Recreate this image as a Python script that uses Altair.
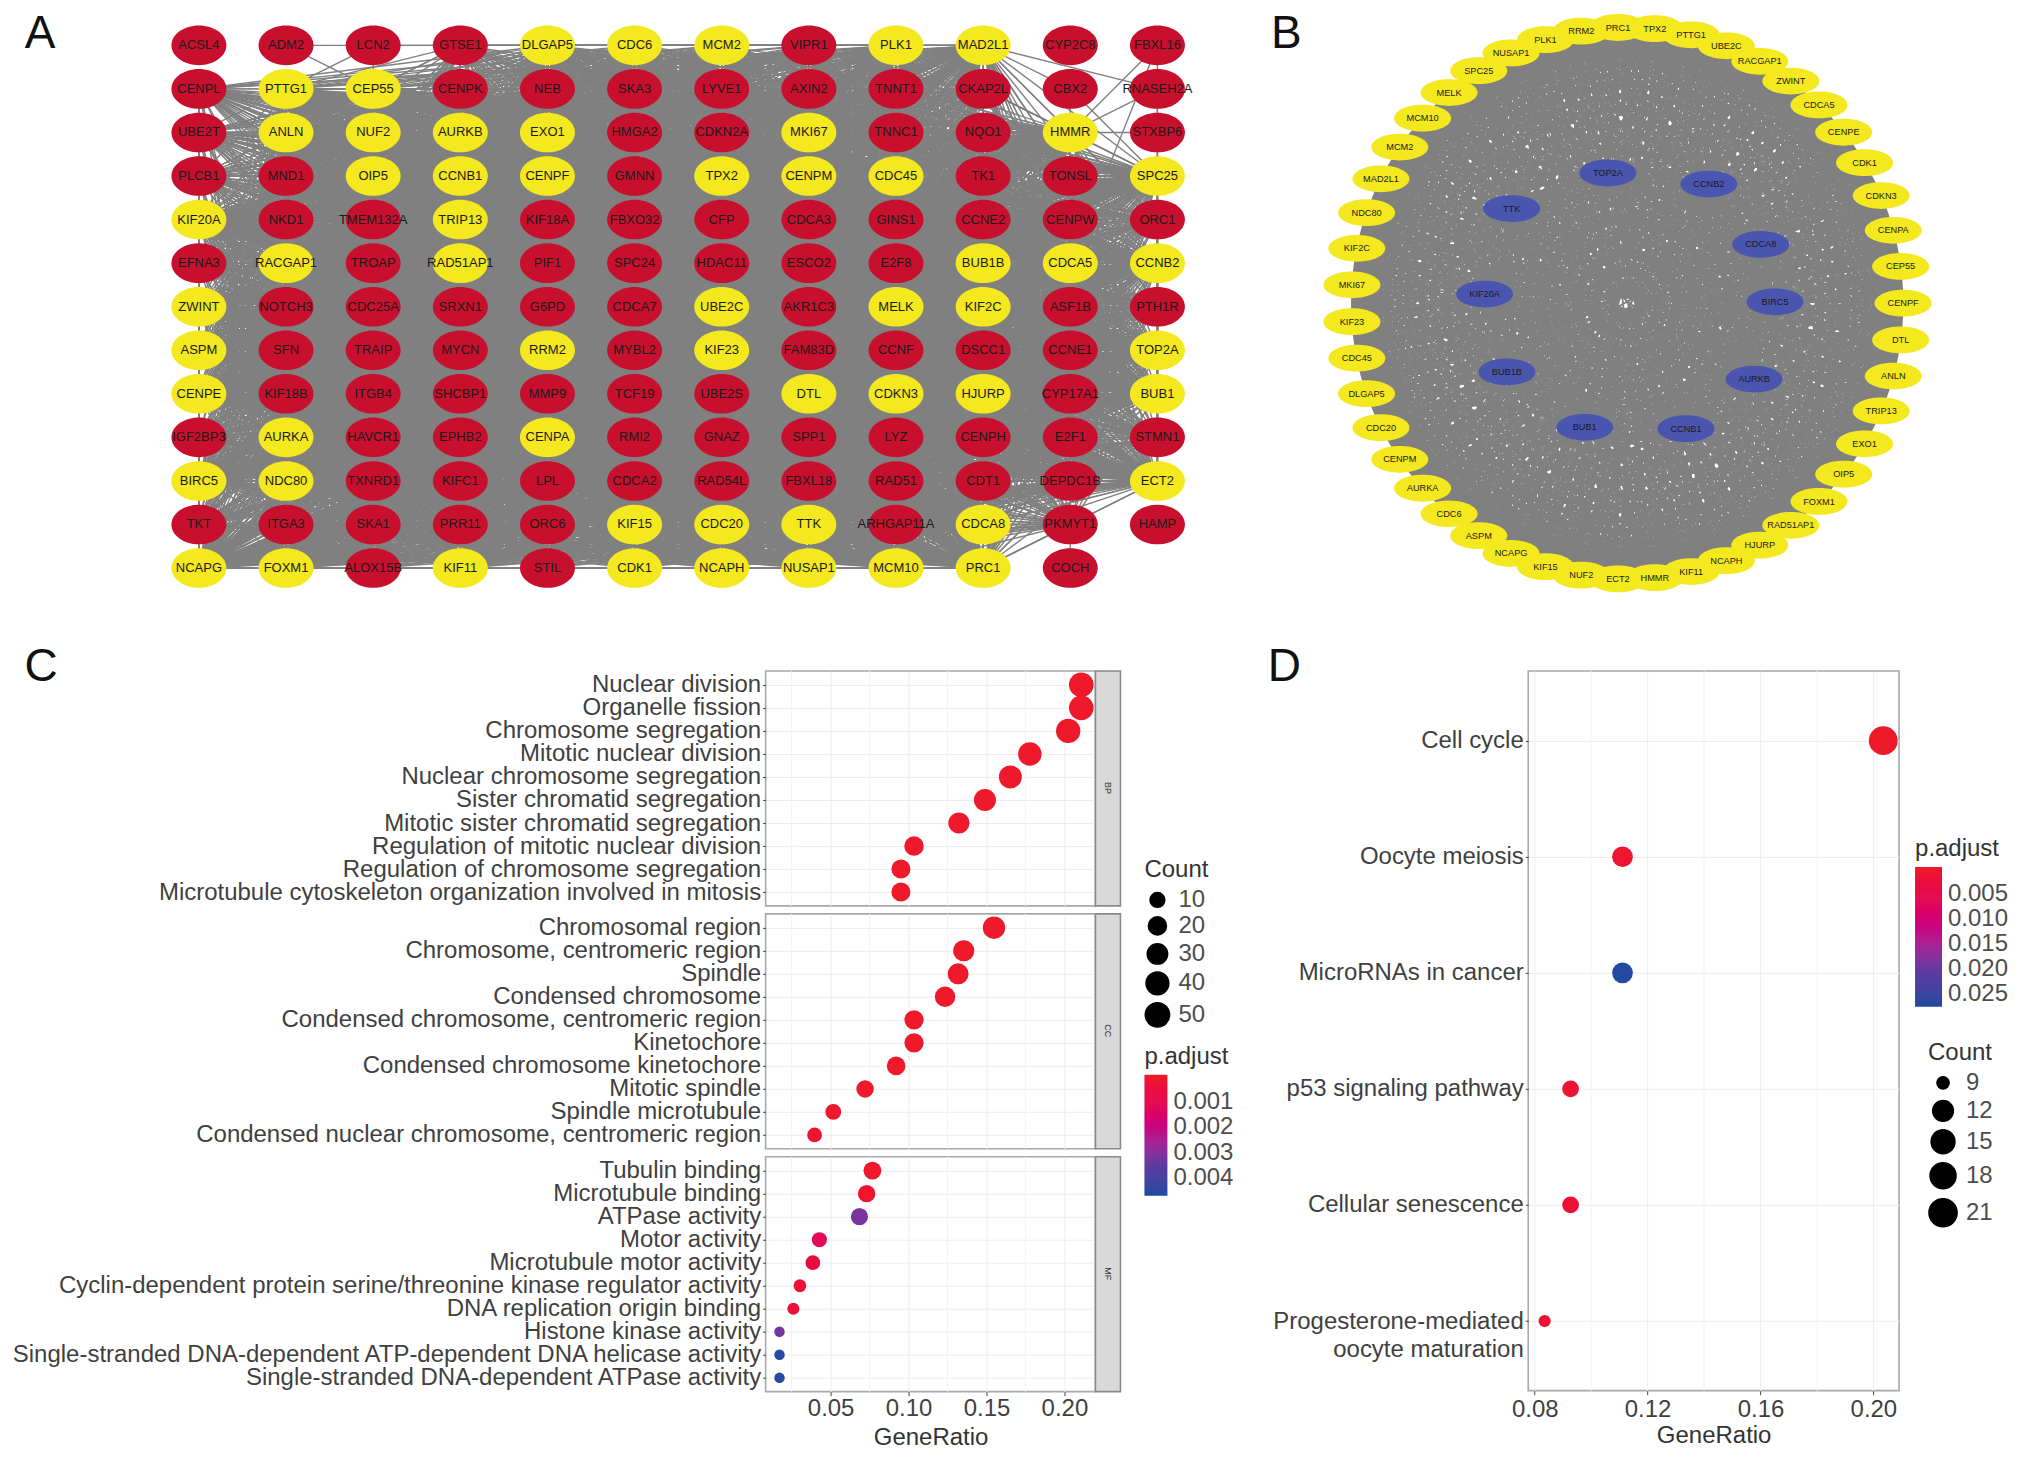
import math
from itertools import combinations
import altair as alt
import pandas as pd

alt.data_transformers.disable_max_rows()

FONT = "Liberation Sans"
GRAY_EDGE = "#808080"
RED_NODE = "#C8102E"
YELLOW_NODE = "#F4E81E"
BLUE_NODE = "#4A55B0"
TXT = "#3f3f3f"
FS = 24


def indep(c):
    return c.resolve_scale(color="independent", size="independent")


# ---------- panel A ----------
grid_rows = [
    "ACSL4 ADM2 LCN2 GTSE1 DLGAP5 CDC6 MCM2 VIPR1 PLK1 MAD2L1 CYP2C8 FBXL16",
    "CENPL PTTG1 CEP55 CENPK NEB SKA3 LYVE1 AXIN2 TNNT1 CKAP2L CBX2 RNASEH2A",
    "UBE2T ANLN NUF2 AURKB EXO1 HMGA2 CDKN2A MKI67 TNNC1 NQO1 HMMR STXBP6",
    "PLCB1 MND1 OIP5 CCNB1 CENPF GMNN TPX2 CENPM CDC45 TK1 TONSL SPC25",
    "KIF20A NKD1 TMEM132A TRIP13 KIF18A FBXO32 CFP CDCA3 GINS1 CCNE2 CENPW ORC1",
    "EFNA3 RACGAP1 TROAP RAD51AP1 PIF1 SPC24 HDAC11 ESCO2 E2F8 BUB1B CDCA5 CCNB2",
    "ZWINT NOTCH3 CDC25A SRXN1 G6PD CDCA7 UBE2C AKR1C3 MELK KIF2C ASF1B PTH1R",
    "ASPM SFN TRAIP MYCN RRM2 MYBL2 KIF23 FAM83D CCNF DSCC1 CCNE1 TOP2A",
    "CENPE KIF18B ITGB4 SHCBP1 MMP9 TCF19 UBE2S DTL CDKN3 HJURP CYP17A1 BUB1",
    "IGF2BP3 AURKA HAVCR1 EPHB2 CENPA RMI2 GNAZ SPP1 LYZ CENPH E2F1 STMN1",
    "BIRC5 NDC80 TXNRD1 KIFC1 LPL CDCA2 RAD54L FBXL18 RAD51 CDT1 DEPDC1B ECT2",
    "TKT ITGA3 SKA1 PRR11 ORC6 KIF15 CDC20 TTK ARHGAP11A CDCA8 PKMYT1 HAMP",
    "NCAPG FOXM1 ALOX15B KIF11 STIL CDK1 NCAPH NUSAP1 MCM10 PRC1 COCH",
]
ring_genes = ("PRC1 TPX2 PTTG1 UBE2C RACGAP1 ZWINT CDCA5 CENPE CDK1 CDKN3 CENPA CEP55 CENPF DTL ANLN "
              "TRIP13 EXO1 OIP5 FOXM1 RAD51AP1 HJURP NCAPH KIF11 HMMR ECT2 NUF2 KIF15 NCAPG ASPM CDC6 "
              "AURKA CENPM CDC20 DLGAP5 CDC45 KIF23 MKI67 KIF2C NDC80 MAD2L1 MCM2 MCM10 MELK SPC25 "
              "NUSAP1 PLK1 RRM2").split()
hub_genes = ["TOP2A", "CCNB2", "TTK", "CDCA8", "KIF20A", "BIRC5", "BUB1B", "AURKB", "BUB1", "CCNB1"]
hub_x = [-0.070, 0.296, -0.419, 0.484, -0.517, 0.536, -0.436, 0.460, -0.154, 0.213]
hub_y = [-0.472, -0.432, -0.343, -0.213, -0.033, -0.005, 0.249, 0.275, 0.450, 0.455]
up_genes = set(ring_genes) | set(hub_genes)
sparse_links = {
    "ACSL4": [], "HAMP": [], "COCH": [], "CYP2C8": [],
    "ADM2": ["DLGAP5", "CEP55"], "LCN2": ["CDC6", "CEP55", "PTTG1"],
    "FBXL16": ["HMMR", "SPC25", "CDCA5"], "CBX2": ["HMMR", "MAD2L1", "SPC25"],
    "RNASEH2A": ["HMMR", "SPC25", "MAD2L1"], "STXBP6": ["SPC25", "HMMR"],
    "TONSL": ["SPC25", "MAD2L1", "CCNB2"],
}
extra_links = [("PKMYT1", "COCH")]

pos = {}
rows_a = []
for r, line in enumerate(grid_rows):
    for c, g in enumerate(line.split()):
        pos[g] = (c, r)
        rows_a.append({"gene": g, "col": c, "row": r, "kind": "up" if g in up_genes else "down"})
nodes_a = pd.DataFrame(rows_a)

up_list = [g for g in pos if g in up_genes]
down_list = [g for g in pos if g not in up_genes]
pairs_a = list(combinations(up_list, 2)) + extra_links
for g in down_list:
    for t in sparse_links.get(g, up_list):
        pairs_a.append((g, t))
edges_a = pd.DataFrame(
    [{"col": pos[a][0], "row": pos[a][1], "col2": pos[b][0], "row2": pos[b][1]} for a, b in pairs_a]
)

ELLIPSE_A = "M-1,0 A1,0.72 0 1 1 1,0 A1,0.72 0 1 1 -1,0 Z"
ELLIPSE_B = "M-1,0 A1,0.47 0 1 1 1,0 A1,0.47 0 1 1 -1,0 Z"

TOP_H = 636
col_px, row_px = 87.18, 43.58
xa = alt.Scale(domain=[(0 - 190) / col_px, (1232 - 190) / col_px], nice=False, zero=False)
ya = alt.Scale(domain=[(TOP_H - 37) / row_px, (0 - 37) / row_px], nice=False, zero=False)


def letter(t, lx, ly, size=46):
    return alt.Chart(alt.Data(values=[{"t": t}])).mark_text(
        fontSize=size, font=FONT, color="#111111", baseline="middle", align="center"
    ).encode(x=alt.value(lx), y=alt.value(ly), text="t:N")


edge_a = alt.Chart(edges_a).mark_rule(color=GRAY_EDGE, strokeWidth=1.4).encode(
    x=alt.X("col:Q", scale=xa, axis=None), x2="col2:Q",
    y=alt.Y("row:Q", scale=ya, axis=None), y2="row2:Q",
)
node_a = alt.Chart(nodes_a).mark_point(filled=True, opacity=1, shape=ELLIPSE_A, size=55 ** 2).encode(
    x=alt.X("col:Q", scale=xa, axis=None),
    y=alt.Y("row:Q", scale=ya, axis=None),
    color=alt.Color("kind:N", scale=alt.Scale(domain=["up", "down"], range=[YELLOW_NODE, RED_NODE]), legend=None),
)
text_a = alt.Chart(nodes_a).mark_text(fontSize=13, font=FONT, color="#1a1a1a").encode(
    x=alt.X("col:Q", scale=xa, axis=None),
    y=alt.Y("row:Q", scale=ya, axis=None),
    text="gene:N",
)
panel_a = alt.layer(edge_a, node_a, text_a, letter("A", 31, 26)).properties(width=1232, height=TOP_H)

# ---------- panel B ----------
rows_b = []
n_ring = len(ring_genes)
for i, g in enumerate(ring_genes):
    ang = math.radians(90 + (i - 12) * 360 / n_ring)
    rows_b.append({"gene": g, "x": math.sin(ang), "y": -math.cos(ang), "kind": "ring"})
for g, x, y in zip(hub_genes, hub_x, hub_y):
    rows_b.append({"gene": g, "x": x, "y": y, "kind": "hub"})
nodes_b = pd.DataFrame(rows_b)
edges_b = pd.DataFrame(
    [{"x": a["x"], "y": a["y"], "x2": b["x"], "y2": b["y"]} for a, b in combinations(rows_b, 2)]
)
R_B = 276.0
xb = alt.Scale(domain=[-387 / R_B, (784 - 387) / R_B], nice=False, zero=False)
yb = alt.Scale(domain=[(TOP_H - 295) / R_B, -295 / R_B], nice=False, zero=False)

edge_b = alt.Chart(edges_b).mark_rule(color=GRAY_EDGE, strokeWidth=1.8).encode(
    x=alt.X("x:Q", scale=xb, axis=None), x2="x2:Q",
    y=alt.Y("y:Q", scale=yb, axis=None), y2="y2:Q",
)
node_b = alt.Chart(nodes_b).mark_point(filled=True, opacity=1, shape=ELLIPSE_B, size=57 ** 2).encode(
    x=alt.X("x:Q", scale=xb, axis=None),
    y=alt.Y("y:Q", scale=yb, axis=None),
    color=alt.Color("kind:N", scale=alt.Scale(domain=["ring", "hub"], range=[YELLOW_NODE, BLUE_NODE]), legend=None),
)
text_b = alt.Chart(nodes_b).mark_text(fontSize=9.2, font=FONT, color="#1a1a1a").encode(
    x=alt.X("x:Q", scale=xb, axis=None),
    y=alt.Y("y:Q", scale=yb, axis=None),
    text="gene:N",
)
panel_b = alt.layer(edge_b, node_b, text_b, letter("B", 46, 26)).properties(width=784, height=TOP_H)

# ---------- panel C ----------
bp_terms = ["Nuclear division", "Organelle fission", "Chromosome segregation", "Mitotic nuclear division",
            "Nuclear chromosome segregation", "Sister chromatid segregation", "Mitotic sister chromatid segregation",
            "Regulation of mitotic nuclear division", "Regulation of chromosome segregation",
            "Microtubule cytoskeleton organization involved in mitosis"]
bp_ratio = [0.2108, 0.2108, 0.2024, 0.1778, 0.1653, 0.149, 0.1323, 0.1035, 0.0951, 0.0951]
bp_count = [52, 52, 50, 44, 41, 37, 33, 26, 24, 24]
bp_padj = [0.00001, 0.00001, 0.00001, 0.00001, 0.00001, 0.00001, 0.00001, 0.00001, 0.00001, 0.00001]

cc_terms = ["Chromosomal region", "Chromosome, centromeric region", "Spindle", "Condensed chromosome",
            "Condensed chromosome, centromeric region", "Kinetochore", "Condensed chromosome kinetochore",
            "Mitotic spindle", "Spindle microtubule", "Condensed nuclear chromosome, centromeric region"]
cc_ratio = [0.1548, 0.1354, 0.1318, 0.1234, 0.1035, 0.1035, 0.092, 0.0721, 0.0517, 0.0397]
cc_count = [38, 33, 32, 30, 25, 25, 22, 18, 13, 10]
cc_padj = [0.00001, 0.00001, 0.00001, 0.00001, 0.00001, 0.00001, 0.00001, 0.00001, 0.00002, 0.0002]

mf_terms = ["Tubulin binding", "Microtubule binding", "ATPase activity", "Motor activity", "Microtubule motor activity",
            "Cyclin-dependent protein serine/threonine kinase regulator activity", "DNA replication origin binding",
            "Histone kinase activity", "Single-stranded DNA-dependent ATP-dependent DNA helicase activity",
            "Single-stranded DNA-dependent ATPase activity"]
mf_ratio = [0.0768, 0.0731, 0.0685, 0.0428, 0.0386, 0.0303, 0.0261, 0.0172, 0.0172, 0.0172]
mf_count = [19, 18, 17, 11, 10, 7, 6, 4, 4, 4]
mf_padj = [0.00005, 0.0001, 0.0032, 0.0012, 0.0005, 0.0003, 0.0004, 0.0033, 0.0046, 0.0046]

c_ticks = [0.05, 0.10, 0.15, 0.20]
c_minor = [0.025, 0.075, 0.125, 0.175]
c_domain = [0.0083, 0.2199]
c_size_dom = [4, 10, 20, 30, 40, 52]
c_size_rng = [110, 218, 327, 417, 520, 610]
c_color_span = (0.0047, -0.00008)
PADJ_RANGE = ["#1E4AA0", "#5E3A9F", "#B8178C", "#E31056", "#EE1C25"]


def padj_domain(span):
    hi, lo = span
    return [hi, hi + (lo - hi) * 0.25, hi + (lo - hi) * 0.5, hi + (lo - hi) * 0.75, lo]


def dot_panel(terms, ratio, count, padj, domain, ticks, minor, size_dom, size_rng, color_span,
              width, height, show_x, multiline=False, label_pad=3, title_pad=2):
    df = pd.DataFrame({"term": terms, "ratio": ratio, "count": count, "padj": padj})
    x_scale = alt.Scale(domain=domain, nice=False, zero=False)
    y_kw = dict(title=None, labelFont=FONT, labelFontSize=FS, labelColor=TXT, labelLimit=900,
                domain=False, tickColor="#444444", tickSize=3, labelPadding=2,
                gridColor="#ededed", gridWidth=1, grid=True)
    if multiline:
        y_kw.update(labelLineHeight=28, labelExpr="split(datum.value, '|')")
    y_axis = alt.Axis(**y_kw)
    x_axis = alt.Axis(
        title="GeneRatio" if show_x else None, values=ticks, format=".2f", grid=True, gridColor="#ededed",
        domain=False, labels=show_x, ticks=show_x, tickColor="#444444", tickSize=4,
        labelFont=FONT, labelFontSize=FS, labelColor=TXT, titleFont=FONT, titleFontSize=FS,
        titleColor="#333333", titleFontWeight="normal", labelPadding=label_pad, titlePadding=title_pad,
        labelFlush=False,
    )
    minor_grid = alt.Chart(pd.DataFrame({"m": minor})).mark_rule(color="#f3f3f3", strokeWidth=1).encode(
        x=alt.X("m:Q", scale=x_scale, axis=x_axis)
    )
    dots = alt.Chart(df).mark_point(filled=True, opacity=1).encode(
        x=alt.X("ratio:Q", scale=x_scale, axis=x_axis),
        y=alt.Y("term:N", sort=None, scale=alt.Scale(type="point", padding=0.6, domain=terms), axis=y_axis),
        size=alt.Size("count:Q", scale=alt.Scale(domain=size_dom, range=size_rng), legend=None),
        color=alt.Color("padj:Q", scale=alt.Scale(domain=padj_domain(color_span), range=PADJ_RANGE), legend=None),
    )
    return alt.layer(minor_grid, dots).properties(
        width=width, height=height, view=alt.ViewConfig(stroke="#a8a8a8", strokeWidth=1.6)
    )


def strip(label):
    return alt.Chart(alt.Data(values=[{"t": label}])).mark_text(
        font=FONT, fontSize=9, color="#333333", angle=90, baseline="middle", align="center"
    ).encode(x=alt.value(13), y=alt.value(117), text="t:N").properties(
        width=25, height=235, view=alt.ViewConfig(fill="#d9d9d9", stroke="#8a8a8a", strokeWidth=1.6)
    )


def spacer(width, height, label=" ", lx=5, ly=10, size=2):
    return letter(label, lx, ly, size).properties(width=width, height=height)


LETTER_Y = -4
C_W, C_H = 330, 235
c_rows = []
for label, terms, ratio, count, padj, show in [
    ("BP", bp_terms, bp_ratio, bp_count, bp_padj, False),
    ("CC", cc_terms, cc_ratio, cc_count, cc_padj, False),
    ("MF", mf_terms, mf_ratio, mf_count, mf_padj, True),
]:
    left = spacer(757, C_H, "C", 32, LETTER_Y, 46) if label == "BP" else spacer(757, C_H)
    c_rows.append(indep(alt.hconcat(
        left,
        dot_panel(terms, ratio, count, padj, c_domain, c_ticks, c_minor, c_size_dom, c_size_rng, c_color_span,
                  C_W, C_H, show, label_pad=1, title_pad=5),
        strip(label), spacing=0, bounds="flush",
    )))
panel_c = indep(alt.vconcat(*c_rows, spacing=4))


def legend_cell(width, height, size_dom, size_rng, size_vals, color_span, color_vals, count_x, count_y,
                padj_x, padj_y, grad_len, grad_w, row_pad):
    df = pd.DataFrame({"count": size_vals, "padj": [color_vals[0]] * len(size_vals)})
    return alt.Chart(df).mark_point(filled=True, opacity=0).encode(
        x=alt.value(5), y=alt.value(5),
        size=alt.Size("count:Q", title="Count", scale=alt.Scale(domain=size_dom, range=size_rng),
                      legend=alt.Legend(orient="none", legendX=count_x, legendY=count_y, values=size_vals,
                                        symbolFillColor="#000000", symbolStrokeColor="#000000",
                                        symbolOpacity=1, symbolType="circle", titleFont=FONT, titleFontSize=FS,
                                        titleFontWeight="normal", titleColor="#333333", labelFont=FONT,
                                        labelFontSize=FS, labelColor="#4d4d4d", rowPadding=row_pad,
                                        labelOffset=8, titlePadding=6)),
        color=alt.Color("padj:Q", title="p.adjust",
                        scale=alt.Scale(domain=padj_domain(color_span), range=PADJ_RANGE),
                        legend=alt.Legend(orient="none", legendX=padj_x, legendY=padj_y, values=color_vals,
                                          gradientLength=grad_len, gradientThickness=grad_w, gradientStrokeWidth=0,
                                          format=".3f", titleFont=FONT, titleFontSize=FS, titleFontWeight="normal",
                                          titleColor="#333333", labelFont=FONT, labelFontSize=FS,
                                          labelColor="#4d4d4d", labelOffset=6, titlePadding=6)),
    ).properties(width=width, height=height)


c_count_legend = [10, 20, 30, 40, 50]
c_padj_legend = [0.001, 0.002, 0.003, 0.004]
legend_c = alt.layer(
    legend_cell(138, 720, c_size_dom, c_size_rng, c_count_legend, c_color_span, c_padj_legend,
                15, 187, 15, 374, 121, 23, 1),
    letter(" ", 1, LETTER_Y),
).properties(width=138, height=720)

# ---------- panel D ----------
d_terms = ["Cell cycle", "Oocyte meiosis", "MicroRNAs in cancer", "p53 signaling pathway", "Cellular senescence",
           "Progesterone-mediated|oocyte maturation"]
d_ratio = [0.2035, 0.1111, 0.1111, 0.0927, 0.0927, 0.0835]
d_count = [22, 12, 12, 10, 10, 9]
d_padj = [0.000001, 0.0008, 0.0272, 0.0012, 0.0015, 0.0013]
d_ticks = [0.08, 0.12, 0.16, 0.20]
d_minor = [0.10, 0.14, 0.18]
d_domain = [0.0777, 0.2091]
d_size_dom = [9, 10, 12, 15, 18, 22]
d_size_rng = [150, 280, 430, 570, 680, 830]
d_color_span = (0.0275, -0.0004)
d_count_legend = [9, 12, 15, 18, 21]
d_padj_legend = [0.005, 0.010, 0.015, 0.020, 0.025]

panel_d = dot_panel(d_terms, d_ratio, d_count, d_padj, d_domain, d_ticks, d_minor, d_size_dom, d_size_rng,
                    d_color_span, 371, 720, True, multiline=True)
legend_d = legend_cell(122, 720, d_size_dom, d_size_rng, d_count_legend, d_color_span, d_padj_legend,
                       29, 370, 16, 166, 140, 27, 2)

right_group = indep(alt.hconcat(spacer(261, 720, "D", 17, LETTER_Y, 46), panel_d, legend_d, spacing=0, bounds="flush"))
top_row = indep(alt.hconcat(panel_a, panel_b, spacing=0, bounds="flush"))
bottom_row = indep(alt.hconcat(panel_c, legend_c, right_group, spacing=0))

chart = indep(alt.vconcat(top_row, bottom_row, spacing=0)).properties(padding=0).configure_view(stroke=None)
chart.save("out.html", embed_options={"renderer": "svg", "actions": False})
